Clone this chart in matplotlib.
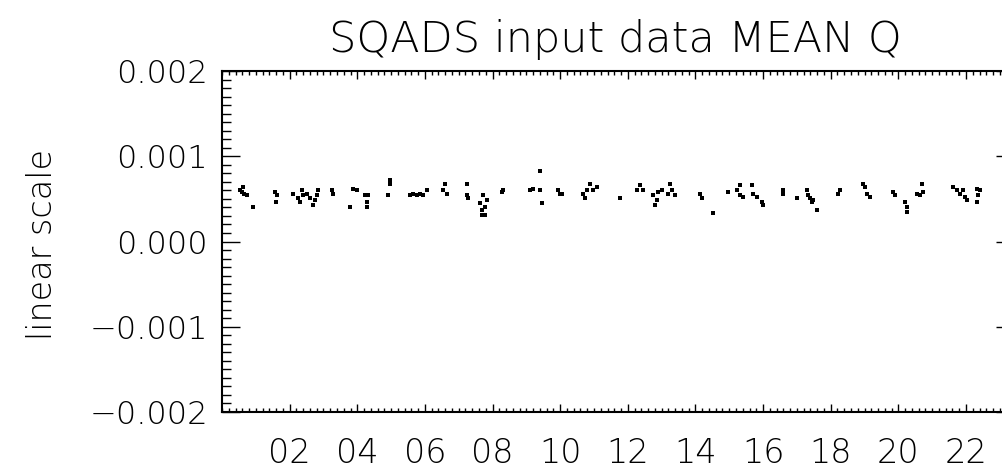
import matplotlib
matplotlib.use("Agg")
import matplotlib.pyplot as plt
from matplotlib.ticker import MultipleLocator, FixedLocator

# hour of day, mean Q value
hours = [0.532, 0.611, 0.651, 0.730, 0.927, 0.582,
         1.568, 1.617, 1.597,
         2.110, 2.258, 2.307, 2.356, 2.406, 2.504, 2.603, 2.701, 2.800, 2.849, 2.751,
         3.244, 3.293, 3.786, 3.884, 3.983, 4.230, 4.279, 4.279, 4.328,
         4.969, 4.969, 4.920,
         5.560, 5.659, 5.758, 5.856, 5.955, 6.053,
         6.546, 6.596, 6.645,
         7.237, 7.237, 7.286, 7.631, 7.730, 7.779, 7.828, 7.680, 7.779, 7.680,
         8.272, 8.321,
         9.110, 9.208, 9.406, 9.406, 9.455,
         9.948, 9.997, 10.047,
         10.687, 10.786, 10.884, 10.983, 11.081, 10.736,
         11.772,
         12.265, 12.363, 12.462, 12.758, 12.807, 12.856, 12.905, 13.004, 13.251, 13.300, 13.201, 13.398,
         14.138, 14.187, 14.532,
         14.976, 15.222, 15.321, 15.321, 15.419, 15.666, 15.715, 15.814, 15.962, 16.011,
         16.603, 16.603, 16.997, 17.293, 17.342, 17.391, 17.441, 17.490, 17.589,
         18.229, 18.279,
         18.969, 19.018, 19.067, 19.166,
         19.856, 19.905, 20.201, 20.250, 20.250, 20.546, 20.694, 20.645, 20.743,
         21.630, 21.729, 21.828, 21.926, 21.976, 22.025, 22.321, 22.419, 22.370, 22.321]
mean_q = [0.000601, 0.000640, 0.000563, 0.000543, 0.000408, 0.000582,
          0.000582, 0.000543, 0.000466,
          0.000563, 0.000505, 0.000466, 0.000601, 0.000543, 0.000563, 0.000505, 0.000428, 0.000543, 0.000601, 0.000486,
          0.000601, 0.000563, 0.000408, 0.000620, 0.000601, 0.000543, 0.000466, 0.000408, 0.000543,
          0.000717, 0.000678, 0.000543,
          0.000543, 0.000563, 0.000543, 0.000563, 0.000543, 0.000601,
          0.000601, 0.000678, 0.000563,
          0.000678, 0.000543, 0.000505, 0.000447, 0.000543, 0.000408, 0.000486, 0.000370, 0.000312, 0.000312,
          0.000582, 0.000601,
          0.000601, 0.000620, 0.000832, 0.000601, 0.000447,
          0.000601, 0.000563, 0.000563,
          0.000563, 0.000601, 0.000678, 0.000601, 0.000640, 0.000505,
          0.000505,
          0.000601, 0.000659, 0.000601, 0.000543, 0.000428, 0.000486, 0.000582, 0.000601, 0.000678, 0.000601, 0.000563, 0.000543,
          0.000563, 0.000505, 0.000331,
          0.000582, 0.000601, 0.000659, 0.000543, 0.000524, 0.000659, 0.000563, 0.000524, 0.000466, 0.000428,
          0.000601, 0.000563, 0.000505, 0.000601, 0.000543, 0.000505, 0.000466, 0.000486, 0.000370,
          0.000563, 0.000601,
          0.000678, 0.000640, 0.000563, 0.000524,
          0.000582, 0.000543, 0.000466, 0.000408, 0.000351, 0.000563, 0.000678, 0.000543, 0.000582,
          0.000640, 0.000601, 0.000563, 0.000601, 0.000524, 0.000486, 0.000620, 0.000601, 0.000543, 0.000466]

xticks = [2, 4, 6, 8, 10, 12, 14, 16, 18, 20, 22]
xticklabels = ["02", "04", "06", "08", "10", "12", "14", "16", "18", "20", "22"]
yticks = [-0.002, -0.001, 0.0, 0.001, 0.002]
yticklabels = ["\u22120.002", "\u22120.001", "0.000", "0.001", "0.002"]

plt.rcParams["font.family"] = ["DejaVu Sans"]
plt.rcParams["font.weight"] = "light"

W, H = 1002, 471
fig = plt.figure(figsize=(W / 100, H / 100), dpi=100)
fig.patch.set_facecolor("white")

# axes box in pixels: left 222, right ~1014 (past the edge), top 71, bottom 412
ax = fig.add_axes([222 / W, 1 - 412 / H, (1014 - 222) / W, (412 - 71) / H])
ax.plot(hours, mean_q, "ks", markersize=2.4, markeredgewidth=0, linestyle="none")

ax.set_xlim(0, 23.42)
ax.set_ylim(-0.002, 0.002)

ax.xaxis.set_major_locator(FixedLocator(xticks))
ax.set_xticklabels(xticklabels)
ax.xaxis.set_minor_locator(MultipleLocator(0.2))
ax.yaxis.set_major_locator(FixedLocator(yticks))
ax.set_yticklabels(yticklabels)
ax.yaxis.set_minor_locator(MultipleLocator(0.0001))

for s in ax.spines.values():
    s.set_linewidth(1.5)

ax.tick_params(axis="both", which="both", direction="in", top=True, right=True, width=1.0)
ax.tick_params(axis="x", which="major", length=5.8, pad=18, labelsize=24)
ax.tick_params(axis="x", which="minor", length=2.9)
ax.tick_params(axis="y", which="major", length=13, pad=10, labelsize=23)
ax.tick_params(axis="y", which="minor", length=6.5)

fig.text(615 / W, 1 - 40 / H, "SQADS input data MEAN Q", fontsize=31,
         ha="center", va="center")
fig.text(43 / W, 1 - 244 / H, "linear scale", fontsize=24, rotation=90,
         ha="center", va="center")

fig.savefig("out.png", dpi=100, facecolor="white")
